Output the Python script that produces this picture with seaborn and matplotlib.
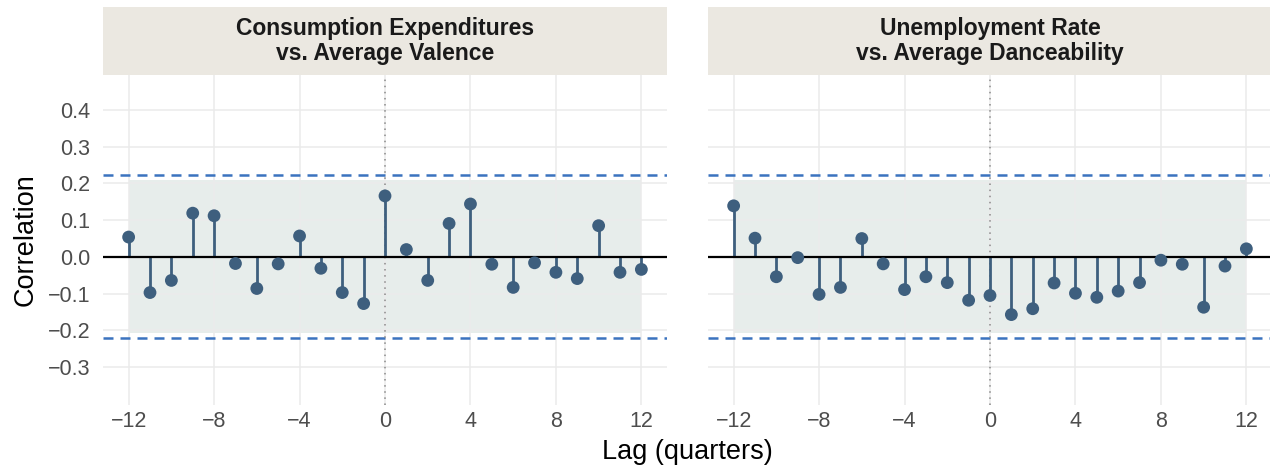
import numpy as np
import pandas as pd
import matplotlib
matplotlib.use("Agg")
import matplotlib.pyplot as plt
import seaborn as sns
from matplotlib.ticker import FuncFormatter

lags = list(range(-12, 13))

valence_corr = [0.054, -0.097, -0.064, 0.119, 0.112, -0.018, -0.086, -0.019, 0.057,
                -0.031, -0.097, -0.127, 0.166, 0.020, -0.064, 0.091, 0.144, -0.020,
                -0.083, -0.016, -0.042, -0.059, 0.085, -0.042, -0.034]
dance_corr = [0.139, 0.051, -0.054, -0.002, -0.102, -0.083, 0.050, -0.019, -0.089,
              -0.054, -0.070, -0.118, -0.105, -0.157, -0.141, -0.071, -0.099, -0.110,
              -0.093, -0.070, -0.009, -0.020, -0.137, -0.025, 0.022]

panel_titles = ["Consumption Expenditures\nvs. Average Valence",
                "Unemployment Rate\nvs. Average Danceability"]
conf_limit = 0.222
band_limit = 0.208

df = pd.concat([
    pd.DataFrame({"lag": lags, "corr": valence_corr, "panel": panel_titles[0]}),
    pd.DataFrame({"lag": lags, "corr": dance_corr, "panel": panel_titles[1]}),
])

sns.set_theme(style="whitegrid")
plt.rcParams["font.family"] = ["Liberation Sans", "DejaVu Sans"]

W, H = 1270, 467
fig = plt.figure(figsize=(W / 100, H / 100), dpi=100)

stem_col = "#3e5f7e"
dash_col = "#3b73bf"
band_col = "#e7edeb"
strip_col = "#ebe8e1"

lefts = [103, 708]
pw = 564
ax_bottom, ax_top = 405, 75
strip_top = 7

minus = FuncFormatter(lambda v, p: f"{v:.1f}".replace("-", "\u2212"))
minus_int = FuncFormatter(lambda v, p: f"{v:.0f}".replace("-", "\u2212"))

for i, (left, title) in enumerate(zip(lefts, panel_titles)):
    ax = fig.add_axes([left / W, (H - ax_bottom) / H, pw / W, (ax_bottom - ax_top) / H])
    sub = df[df["panel"] == title]

    ax.fill_between([-12, 12], -band_limit, band_limit, color=band_col, zorder=0.5, lw=0)
    for y in (conf_limit, -conf_limit):
        ax.axhline(y, color=dash_col, lw=1.8, dashes=(4, 2.8), zorder=1)
    ax.axvline(0, color="#8a8a8a", lw=1.1, linestyle=(0, (1, 3)), zorder=1)
    ax.vlines(sub["lag"], 0, sub["corr"], color=stem_col, lw=2.0, zorder=2)
    ax.axhline(0, color="black", lw=1.6, zorder=3)
    sns.scatterplot(data=sub, x="lag", y="corr", ax=ax, color=stem_col, s=85,
                    edgecolor="none", zorder=4, legend=False)

    ax.set_xlim(-13.2, 13.2)
    ax.set_ylim(-0.403, 0.495)
    ax.set_xticks([-12, -8, -4, 0, 4, 8, 12])
    ax.set_yticks([-0.3, -0.2, -0.1, 0.0, 0.1, 0.2, 0.3, 0.4])
    ax.xaxis.set_major_formatter(minus_int)
    ax.yaxis.set_major_formatter(minus)
    ax.grid(True, color="#ebebeb", lw=1.1)
    ax.set_axisbelow(True)
    for s in ax.spines.values():
        s.set_visible(False)
    ax.tick_params(axis="both", length=0, labelsize=15.5, labelcolor="#4d4d4d")
    ax.tick_params(axis="x", pad=4)
    ax.tick_params(axis="y", pad=9)
    ax.set_xlabel("")
    ax.set_ylabel("")
    if i == 1:
        ax.tick_params(axis="y", labelleft=False)

    sax = fig.add_axes([left / W, (H - ax_top) / H, pw / W, (ax_top - strip_top) / H])
    sax.set_facecolor(strip_col)
    sax.set_xticks([])
    sax.set_yticks([])
    for s in sax.spines.values():
        s.set_visible(False)
    sax.text(0.5, 0.5, title, ha="center", va="center", fontsize=16.5,
             fontweight="bold", color="#1a1a1a", linespacing=1.15,
             transform=sax.transAxes)

fig.text((lefts[0] + lefts[1] + pw) / 2 / W, 1 - 452 / H, "Lag (quarters)",
         ha="center", va="center", fontsize=19.5, color="black")
fig.text(26 / W, 1 - 240 / H, "Correlation", rotation=90,
         ha="center", va="center", fontsize=19.5, color="black")

fig.savefig("out.png", dpi=100)
